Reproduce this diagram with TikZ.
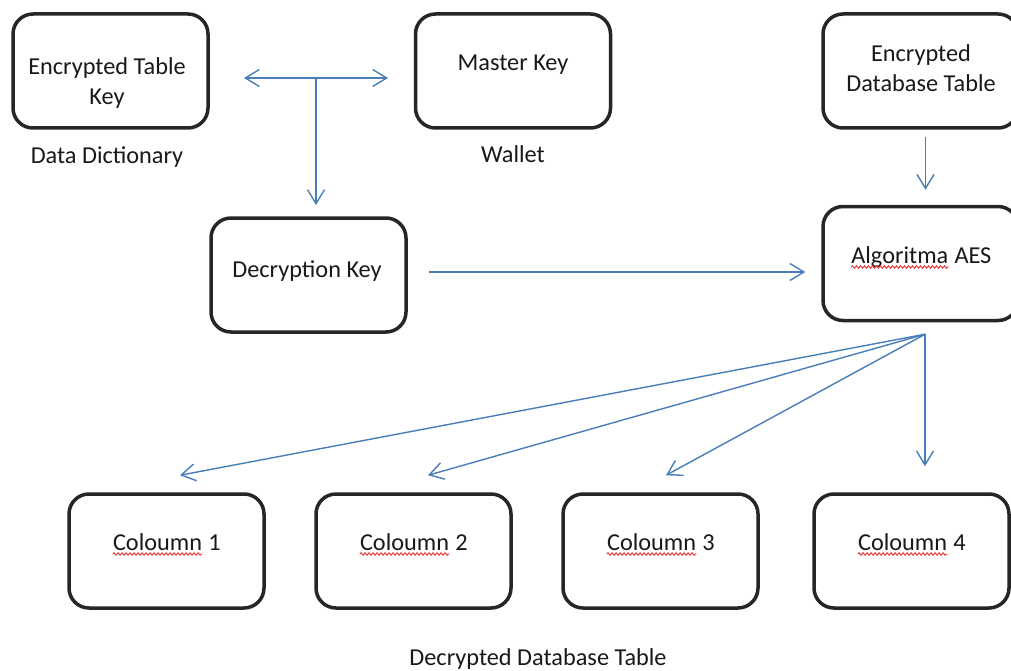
\documentclass[tikz,border=0pt]{standalone}
\usepackage{fontspec}
\setmainfont{Carlito}
\usetikzlibrary{positioning, arrows.meta, decorations.pathmorphing}

\definecolor{arrowblue}{RGB}{74,126,187}
\definecolor{spellred}{RGB}{232,64,64}

\newcommand{\typo}[1]{\tikz[baseline=(w.base)]{\node[inner sep=0pt] (w) {#1};
  \draw[spellred, line width=1pt, decorate, decoration={snake, amplitude=1.2pt, segment length=4pt}]
    ([yshift=-4pt]w.base west) -- ([yshift=-4pt]w.base east);}}

\begin{document}
\begin{tikzpicture}[x=1pt, y=-1pt, >={Straight Barb[length=14pt, width=17pt]},
  font=\fontsize{24.3}{30}\selectfont,
  box/.style={draw=black!85, line width=3.5pt, rounded corners=20pt, minimum width=195pt, minimum height=114pt, inner sep=0pt},
  txt/.style={inner sep=0pt, text=black!90, align=center},
  link/.style={draw=arrowblue, line width=1.4pt, ->}]
\path[use as bounding box, fill=white] (0,0) rectangle (1011,671);

\node[box] (etk) at (110.5,71) {};
\node[box] (mk) at (513,71) {};
\node[box] (edt) at (920.5,71) {};
\node[box] (dk) at (308.5,275) {};
\node[box] (aes) at (920.5,263.5) {};
\node[box] (col1) at (166.5,551) {};
\node[box, right=48.5pt of col1] (col2) {};
\node[box, right=48.5pt of col2] (col3) {};
\node[box, right=52.5pt of col3] (col4) {};

\node[txt] (etk-t) at (107,83) {Encrypted Table\\Key};
\node[txt, anchor=base] (dd) at (107,164) {Data Dictionary};
\node[txt, anchor=base] (mk-t) at (513,71) {Master Key};
\node[txt, anchor=base] (wl) at (513,163) {Wallet};
\node[txt] (edt-t) at (921,68) {Encrypted\\Database Table};
\node[txt, anchor=base] (dk-t) at (307,277) {Decryption Key};
\node[txt, anchor=base] (aes-t) at (921,263) {\typo{Algoritma} AES};
\foreach \i in {1,...,4}
  \node[txt, anchor=base] (col\i-t) at ([yshift=1pt]col\i) {\typo{Coloumn} \i};
\node[txt, anchor=base] (ddt) at (538,665) {Decrypted Database Table};

\coordinate (split) at (316,78);
\draw[link, <->] ([xshift=-72pt]split) -- ([xshift=72pt]split);
\draw[link] (split) -- ([yshift=-127pt]split);
\draw[link] ([xshift=21pt, yshift=3pt]dk.east) -- ([xshift=-16pt, yshift=-8.5pt]aes.west);
\draw[link] ([xshift=5pt, yshift=-7pt]edt.south) -- ([xshift=5pt, yshift=15pt]aes.north);

\coordinate (fan) at ([xshift=4.5pt, yshift=-12pt]aes.south);
\foreach \i/\dx/\dy in {1/13.5/17, 2/14.5/17, 3/5.5/17, 4/13.5/26}
  \draw[link] (fan) -- ([xshift=\dx pt, yshift=\dy pt]col\i.north);
\end{tikzpicture}
\end{document}
